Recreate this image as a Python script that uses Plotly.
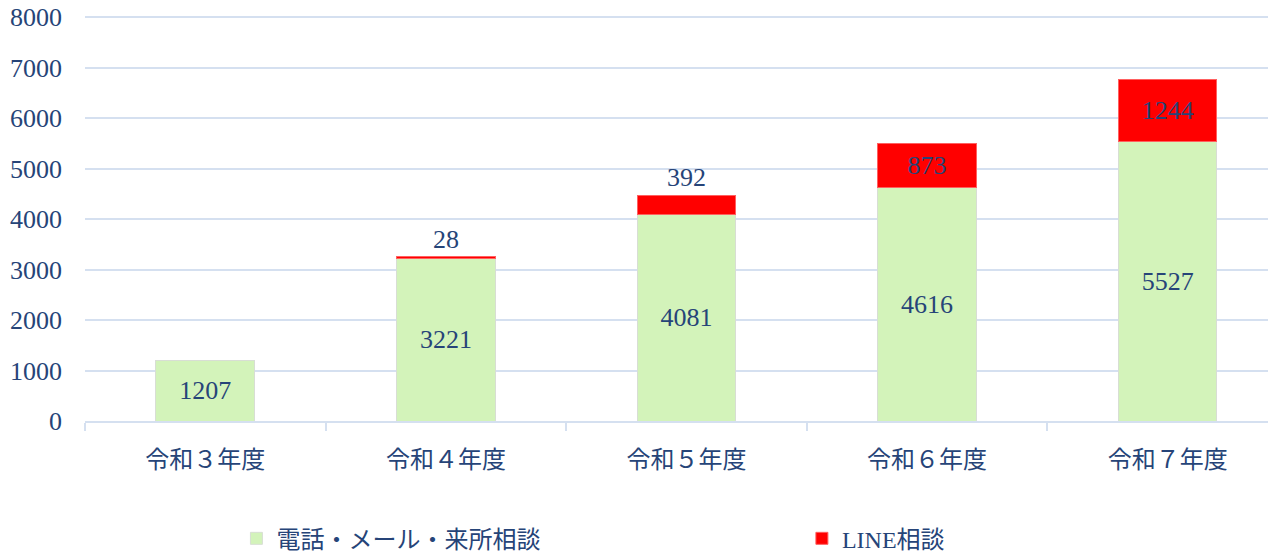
import plotly.graph_objects as go

categories = ["令和３年度", "令和４年度", "令和５年度", "令和６年度", "令和７年度"]
phone_mail_visit = [1207, 3221, 4081, 4616, 5527]
line_consult = [None, 28, 392, 873, 1244]
series_names = ["電話・メール・来所相談", "LINE相談"]
y_ticks = [0, 1000, 2000, 3000, 4000, 5000, 6000, 7000, 8000]

TXT = "#264478"
GRID = "#D5E0F0"
FONT = "Liberation Serif, 'Noto Sans CJK JP', serif"

fig = go.Figure()
fig.add_trace(go.Bar(
    x=categories, y=phone_mail_visit, name=series_names[0],
    marker=dict(color="#D3F3BA", line=dict(color="#D8DED4", width=1)),
    width=0.41,
    text=[str(v) for v in phone_mail_visit], textposition="inside",
    insidetextanchor="middle", textangle=0,
    textfont=dict(family=FONT, size=26, color=TXT),
    legend="legend",
))
fig.add_trace(go.Bar(
    x=categories, y=line_consult, name=series_names[1],
    marker=dict(color="#FF0000", line=dict(color="#FF6060", width=1)),
    width=0.41,
    text=[("" if v is None else str(v)) for v in line_consult], textposition="auto",
    insidetextanchor="middle", textangle=0,
    textfont=dict(family=FONT, size=26, color=TXT),
    outsidetextfont=dict(family=FONT, size=26, color=TXT),
    insidetextfont=dict(family=FONT, size=26, color=TXT),
    cliponaxis=False,
    legend="legend2",
))

legend_common = dict(orientation="h", yanchor="middle", xanchor="left",
                     font=dict(family=FONT, size=24, color=TXT),
                     bgcolor="rgba(0,0,0,0)")
fig.update_layout(
    barmode="stack",
    width=1268, height=553,
    margin=dict(l=85, r=0, t=15, b=132, autoexpand=False),
    plot_bgcolor="white", paper_bgcolor="white",
    font=dict(family=FONT, size=20, color=TXT),
    showlegend=True,
    legend=dict(x=0.128, y=-0.29, **legend_common),
    legend2=dict(x=0.606, y=-0.29, **legend_common),
)
fig.update_xaxes(
    range=[-0.5, 4.417], showline=True, linecolor=GRID, linewidth=1.5,
    ticks="outside", tickson="boundaries", ticklen=8, tickcolor=GRID, tickwidth=1.5,
    showgrid=False, tickfont=dict(family=FONT, size=24, color=TXT),
    ticklabelstandoff=16, automargin=False,
)
fig.update_yaxes(
    range=[0, 8040], tickvals=y_ticks, showgrid=True, gridcolor=GRID, gridwidth=1.5,
    zeroline=False, ticks="", ticklabelstandoff=22, automargin=False,
    ticklabeloverflow="allow",
    tickfont=dict(family=FONT, size=26, color=TXT),
)

fig.write_html("out.html", config={"displayModeBar": False},
               post_script="document.body.style.margin='0';")
